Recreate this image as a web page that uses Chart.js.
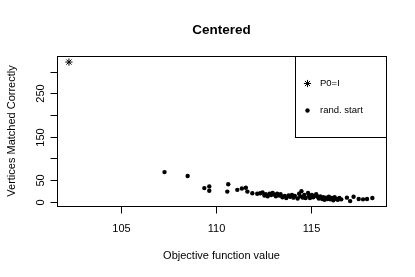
<!DOCTYPE html>
<html>
<head>
<meta charset="utf-8">
<script src="https://cdn.jsdelivr.net/npm/chart.js@4/dist/chart.umd.min.js"></script>
<style>
html, body { margin: 0; padding: 0; background: #ffffff; }
</style>
</head>
<body>
<canvas id="chart-scatter" width="415" height="277"></canvas>
<script>
// reference start (P0 = I)
const p0X = [102.24];
const p0Y = [322];

// random starts
const randX = [107.28, 108.50, 109.38, 109.64, 109.64, 110.64, 110.59, 111.12, 111.36, 111.57,
               111.65, 111.91, 112.17, 112.33, 112.45, 112.55, 112.62, 112.72, 112.82, 112.9,
               112.98, 113.08, 113.15, 113.22, 113.32, 113.4, 113.5, 113.62, 113.7, 113.82,
               113.9, 114.0, 114.08, 114.15, 114.3, 114.38, 114.45, 114.5, 114.58, 114.65,
               114.72, 114.85, 114.9, 114.95, 115.05, 115.12, 115.2, 115.28, 115.35, 115.42,
               115.5, 115.6, 115.65, 115.72, 115.8, 115.88, 115.95, 116.02, 116.1, 116.18,
               116.25, 116.35, 116.42, 116.5, 116.6, 116.9, 117.07, 117.25, 117.52, 117.75,
               117.96, 118.24];
const randY = [68, 59, 31, 35, 25, 40, 23, 27, 30, 32,
               23, 19, 18, 19, 21, 14, 17, 12, 18, 15,
               20, 16, 12, 18, 14, 17, 10, 13, 8, 14,
               11, 15, 9, 13, 7, 18, 12, 24, 9, 15,
               8, 20, 13, 8, 15, 10, 13, 17, 11, 7,
               12, 6, 10, 4, 9, 6, 11, 5, 8, 3,
               10, 6, 4, 8, 5, 9, 1, 11, 6, 5,
               6, 8];

const xTicks = [105, 110, 115];
const yTicks = [0, 50, 100, 150, 200, 250, 300];
const yTickLabels = ['0', '50', '', '150', '', '250', ''];
const legendLabels = ['P0=I', 'rand. start'];

const titleText = 'Centered';
const xTitle = 'Objective function value';
const yTitle = 'Vertices Matched Correctly';
const FONT = '"Liberation Sans", Arial, Helvetica, sans-serif';

// -------------------------------------------------------------------------------------------
// R base-graphics look: box, outward ticks, rotated y labels, boxed legend
const rAxesPlugin = {
    id: 'rAxes',
    afterDraw(chart) {
        const ctx = chart.ctx;
        const area = chart.chartArea;
        const xs = chart.scales.x;
        const ys = chart.scales.y;
        const L = Math.round(area.left) + 0.5;
        const R = Math.round(area.right) + 0.5;
        const T = Math.round(area.top) + 0.5;
        const B = Math.round(area.bottom) + 0.5;

        ctx.save();
        ctx.strokeStyle = '#000';
        ctx.fillStyle = '#000';
        ctx.lineWidth = 1;

        // plot box
        ctx.strokeRect(L, T, R - L, B - T);

        // x axis
        ctx.font = '11px ' + FONT;
        ctx.textAlign = 'center';
        ctx.textBaseline = 'alphabetic';
        xTicks.forEach((v) => {
            const px = Math.round(xs.getPixelForValue(v)) + 0.5;
            ctx.beginPath();
            ctx.moveTo(px, B);
            ctx.lineTo(px, B + 7);
            ctx.stroke();
            ctx.fillText(String(v), px, 232);
        });

        // y axis
        yTicks.forEach((v, i) => {
            const py = Math.round(ys.getPixelForValue(v)) + 0.5;
            ctx.beginPath();
            ctx.moveTo(L, py);
            ctx.lineTo(L - 7, py);
            ctx.stroke();
            if (yTickLabels[i]) {
                ctx.save();
                ctx.translate(44, py);
                ctx.rotate(-Math.PI / 2);
                ctx.fillText(yTickLabels[i], 0, 0);
                ctx.restore();
            }
        });

        // titles
        const midX = (area.left + area.right) / 2;
        ctx.fillText(xTitle, midX, 258.5);
        ctx.save();
        ctx.translate(14.5, (area.top + area.bottom) / 2);
        ctx.rotate(-Math.PI / 2);
        ctx.fillText(yTitle, 0, 0);
        ctx.restore();

        ctx.font = 'bold 13.5px ' + FONT;
        ctx.fillText(titleText, midX, 33.5);

        // legend box
        const lgLeft = 295.5;
        const lgBottom = 137.5;
        ctx.strokeRect(lgLeft, T, R - lgLeft, lgBottom - T);
        ctx.font = '9.5px ' + FONT;
        ctx.textAlign = 'left';
        ctx.textBaseline = 'middle';
        const rows = [83.5, 110.5];
        chart.data.datasets.forEach((ds, i) => {
            Chart.helpers.drawPoint(ctx, {
                pointStyle: ds.pointStyle,
                radius: ds.pointRadius,
                borderWidth: ds.borderWidth,
                rotation: 0
            }, 307.5, rows[i]);
            ctx.fillStyle = '#000';
            ctx.fillText(legendLabels[i], 320, rows[i]);
        });

        ctx.restore();
    }
};
// -------------------------------------------------------------------------------------------
function drawScatter()
{
    const data = {
        datasets: [{
            label: legendLabels[0],
            data: p0X.map((x, i) => ({ x: x, y: p0Y[i] })),
            pointStyle: 'star',
            pointRadius: 3.6,
            borderWidth: 1,
            borderColor: '#000000',
            backgroundColor: '#000000'
        }, {
            label: legendLabels[1],
            data: randX.map((x, i) => ({ x: x, y: randY[i] })),
            pointStyle: 'circle',
            pointRadius: 2.2,
            borderWidth: 0,
            borderColor: '#000000',
            backgroundColor: '#000000'
        }]
    };

    const options = {
        responsive: false,
        animation: false,
        devicePixelRatio: 1,
        layout: {
            padding: { left: 57, right: 29, top: 56, bottom: 71 }
        },
        plugins: {
            legend: { display: false },
            title: { display: false },
            tooltip: { enabled: false }
        },
        scales: {
            x: { type: 'linear', display: false, min: 101.61, max: 118.96 },
            y: { type: 'linear', display: false, min: -10.3, max: 336 }
        }
    };

    new Chart('chart-scatter', {
        type: 'scatter',
        plugins: [rAxesPlugin],
        data: data,
        options: options
    });
}

drawScatter();
</script>
</body>
</html>
